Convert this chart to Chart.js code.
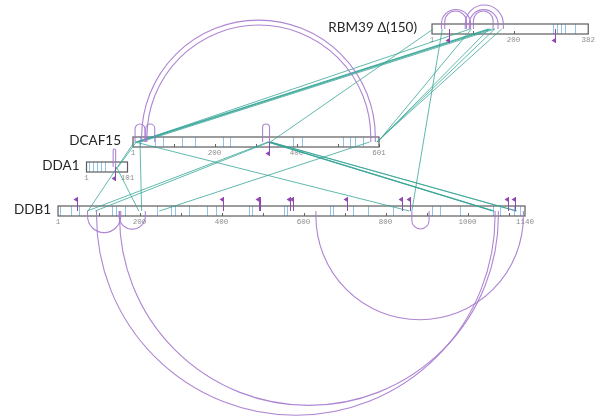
<!DOCTYPE html>
<html>
<head>
<meta charset="utf-8">
<script src="https://cdn.jsdelivr.net/npm/chart.js@4.4.1/dist/chart.umd.min.js"></script>
<style>
  html, body { margin: 0; padding: 0; background: #ffffff; }
  canvas { display: block; }
</style>
</head>
<body>
<canvas id="xlinks" width="595" height="417"></canvas>
<script>
// ---------- proteins ----------
const proteinNames   = ['RBM39 Δ(150)', 'DCAF15', 'DDA1', 'DDB1'];
const proteinLengths = [382, 601, 101, 1140];

// residue numbers printed under each bar
const rbm39Ticks  = [1, 200, 382];
const dcaf15Ticks = [1, 200, 400, 601];
const dda1Ticks   = [1, 101];
const ddb1Ticks   = [1, 200, 400, 600, 800, 1000, 1140];

// lysine positions marked inside the bars
const rbm39Lysines  = [296, 306, 315, 325, 350];
const dcaf15Lysines = [18, 55, 75, 120, 152, 221, 238, 392, 412, 514, 530, 542, 563];
const dda1Lysines   = [7, 16, 26, 36, 46];
const ddb1Lysines   = [6, 32, 53, 132, 142, 164, 242, 276, 286, 321, 365, 386, 468, 473, 551, 560,
                       664, 672, 721, 758, 819, 912, 933, 981, 1063, 1079, 1112, 1128];

// intra-protein crosslinks (residue pairs)
const rbm39SelfLinks  = [[24, 95], [32, 85], [82, 175], [92, 162], [102, 150]];
const dcaf15SelfLinks = [[22, 592], [35, 581], [6, 30], [32, 54], [317, 334]];
const dda1SelfLinks   = [[66, 72]];
const ddb1SelfLinks   = [[73, 154], [150, 214], [95, 1067], [151, 1075], [630, 1136], [864, 906]];

// monolinked residues
const rbm39Monolinks  = [43, 301];
const dcaf15Monolinks = [333];
const dda1Monolinks   = [71];
const ddb1Monolinks   = [47, 403, 490, 494, 567, 575, 705, 839, 860, 1099, 1116];

// inter-protein crosslinks: [protein A, residue A, protein B, residue B]
const crossLinks = [
  ['RBM39 Δ(150)', 94,  'DCAF15', 10],
  ['RBM39 Δ(150)', 138, 'DCAF15', 8],
  ['RBM39 Δ(150)', 142, 'DCAF15', 11],
  ['RBM39 Δ(150)', 146, 'DCAF15', 14],
  ['RBM39 Δ(150)', 154, 'DCAF15', 20],
  ['RBM39 Δ(150)', 97,  'DCAF15', 598],
  ['RBM39 Δ(150)', 140, 'DCAF15', 597],
  ['RBM39 Δ(150)', 154, 'DCAF15', 596],
  ['RBM39 Δ(150)', 171, 'DCAF15', 595],
  ['RBM39 Δ(150)', 4,   'DCAF15', 336],
  ['RBM39 Δ(150)', 26,  'DDB1', 864],
  ['DCAF15', 329, 'DDB1', 1061],
  ['DCAF15', 331, 'DDB1', 1063],
  ['DCAF15', 333, 'DDB1', 1065],
  ['DCAF15', 335, 'DDB1', 1118],
  ['DCAF15', 337, 'DDB1', 1120],
  ['DCAF15', 330, 'DDB1', 72],
  ['DCAF15', 334, 'DDB1', 92],
  ['DCAF15', 6,   'DDB1', 858],
  ['DCAF15', 4,   'DDB1', 74],
  ['DCAF15', 18,  'DDB1', 205],
  ['DCAF15', 578, 'DDB1', 248],
  ['DDA1', 74, 'DDB1', 198],
  ['DDA1', 78, 'DCAF15', 9]
];

// ---------- drawing layout (units: residues along x, pixels down y) ----------
const layout = {
  'RBM39 Δ(150)': { start: 1053.7, row: 29,  side: -1, nameGap: 15 },
  'DCAF15':       { start: 324.4,  row: 142, side: -1, nameGap: 12 },
  'DDA1':         { start: 211,    row: 167, side: -1, nameGap: 7 },
  'DDB1':         { start: 141.5,  row: 211, side: 1,  nameGap: 7 }
};
const tickLists     = [rbm39Ticks, dcaf15Ticks, dda1Ticks, ddb1Ticks];
const lysineLists   = [rbm39Lysines, dcaf15Lysines, dda1Lysines, ddb1Lysines];
const selfLinkLists = [rbm39SelfLinks, dcaf15SelfLinks, dda1SelfLinks, ddb1SelfLinks];
const monoLists     = [rbm39Monolinks, dcaf15Monolinks, dda1Monolinks, ddb1Monolinks];

const BAR_HALF = 5;
const LOOP_MIN = 13;
const TEAL = 'rgba(52,164,150,0.78)';
const PURPLE = 'rgba(165,120,205,0.9)';
const FLAG = '#9048b0';

const unitX = (name, res) => layout[name].start + res - 1;

const crossDatasets = crossLinks.map(([a, ra, b, rb]) => ({
  data: [{ x: unitX(a, ra), y: layout[a].row }, { x: unitX(b, rb), y: layout[b].row }],
  showLine: true,
  borderColor: TEAL,
  borderWidth: 1,
  pointRadius: 0,
  pointHoverRadius: 0,
  fill: false
}));

const barsPlugin = {
  id: 'proteinBars',
  beforeDatasetsDraw(chart) {
    const { ctx } = chart;
    const xs = chart.scales.x, ys = chart.scales.y;
    ctx.save();
    proteinNames.forEach((name, i) => {
      const L = layout[name];
      const x0 = xs.getPixelForValue(unitX(name, 1));
      const x1 = xs.getPixelForValue(unitX(name, proteinLengths[i]));
      const top = ys.getPixelForValue(L.row - BAR_HALF);
      const bot = ys.getPixelForValue(L.row + BAR_HALF);
      ctx.fillStyle = '#ffffff';
      ctx.fillRect(x0, top, x1 - x0, bot - top);
      // lysines
      ctx.strokeStyle = 'rgba(110,175,225,0.75)';
      ctx.lineWidth = 1;
      lysineLists[i].forEach(r => {
        const x = Math.round(xs.getPixelForValue(unitX(name, r))) + 0.5;
        ctx.beginPath(); ctx.moveTo(x, top); ctx.lineTo(x, bot); ctx.stroke();
      });
      // minor ticks every 100 residues
      ctx.strokeStyle = '#666';
      for (let r = 100; r < proteinLengths[i]; r += 100) {
        const x = Math.round(xs.getPixelForValue(unitX(name, r))) + 0.5;
        ctx.beginPath(); ctx.moveTo(x, bot); ctx.lineTo(x, bot - 3); ctx.stroke();
      }
      // outline
      ctx.strokeStyle = '#5c5c5c';
      ctx.lineWidth = 1.2;
      ctx.strokeRect(x0, top, x1 - x0, bot - top);
      // residue numbers
      ctx.fillStyle = '#8c8c8c';
      ctx.font = '7.5px "Liberation Mono", monospace';
      ctx.textAlign = 'center';
      ctx.textBaseline = 'top';
      tickLists[i].forEach(r => {
        ctx.fillText(String(r), xs.getPixelForValue(unitX(name, r)), bot + 2);
      });
      // protein name
      ctx.fillStyle = '#262626';
      ctx.font = '13.5px Lato, "Open Sans", sans-serif';
      ctx.textAlign = 'right';
      ctx.textBaseline = 'alphabetic';
      ctx.fillText(name, x0 - L.nameGap, ys.getPixelForValue(L.row + 3));
    });
    ctx.restore();
  },
  afterDatasetsDraw(chart) {
    const { ctx } = chart;
    const xs = chart.scales.x, ys = chart.scales.y;
    ctx.save();
    proteinNames.forEach((name, i) => {
      const L = layout[name];
      const yc = ys.getPixelForValue(L.row);
      // self links as loops on the protein's own side
      const edge = ys.getPixelForValue(L.row + L.side * BAR_HALF);
      ctx.strokeStyle = PURPLE;
      ctx.lineWidth = 1.1;
      selfLinkLists[i].forEach(([a, b]) => {
        const xa = xs.getPixelForValue(unitX(name, a));
        const xb = xs.getPixelForValue(unitX(name, b));
        const r = Math.abs(xb - xa) / 2;
        const cx = (xa + xb) / 2;
        const h = Math.max(r, LOOP_MIN);
        const cy = edge + L.side * (h - r);
        ctx.beginPath();
        ctx.moveTo(xa, yc);
        ctx.lineTo(xa, cy);
        ctx.arc(cx, cy, r, Math.PI, 0, L.side > 0);
        ctx.lineTo(xb, yc);
        ctx.stroke();
      });
      // monolinks as small flags on the opposite side
      const fSide = -L.side;
      const fEdge = ys.getPixelForValue(L.row + fSide * BAR_HALF);
      monoLists[i].forEach(r => {
        const x = Math.round(xs.getPixelForValue(unitX(name, r))) + 0.5;
        const tip = fEdge + fSide * 9;
        ctx.strokeStyle = FLAG;
        ctx.lineWidth = 1;
        ctx.beginPath(); ctx.moveTo(x, yc); ctx.lineTo(x, tip); ctx.stroke();
        const yA = tip, yB = tip - fSide * 5;
        ctx.fillStyle = FLAG;
        ctx.beginPath();
        ctx.moveTo(x, yA); ctx.lineTo(x, yB); ctx.lineTo(x - 4, (yA + yB) / 2);
        ctx.closePath(); ctx.fill();
      });
    });
    ctx.restore();
  }
};

new Chart(document.getElementById('xlinks'), {
  type: 'scatter',
  data: { datasets: crossDatasets },
  options: {
    responsive: false,
    animation: false,
    events: [],
    layout: { padding: 0 },
    plugins: { legend: { display: false }, tooltip: { enabled: false } },
    scales: {
      x: { type: 'linear', min: 0, max: 595 / 0.41, display: false },
      y: { type: 'linear', min: 0, max: 417, reverse: true, display: false }
    }
  },
  plugins: [barsPlugin]
});
</script>
</body>
</html>
